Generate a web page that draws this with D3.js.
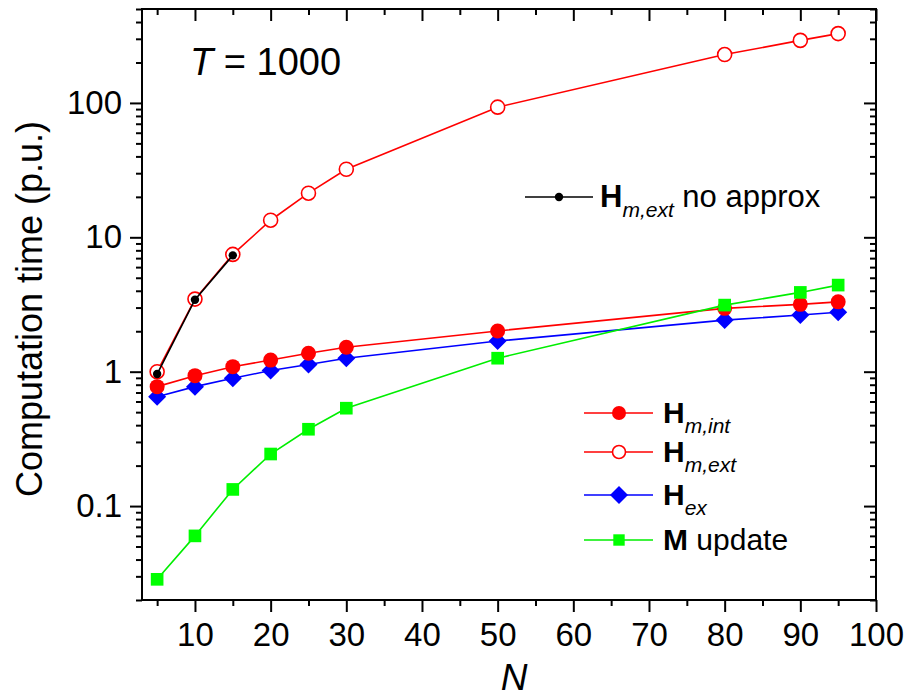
<!DOCTYPE html>
<html>
<head>
<meta charset="utf-8">
<script src="https://cdn.jsdelivr.net/npm/d3@7"></script>
<style>
html,body{margin:0;padding:0;background:#fff;}
text{font-family:"Liberation Sans",Arial,sans-serif;}
</style>
</head>
<body>
<svg id="chart" width="910" height="697"></svg>
<script>
// ---- data ----
const N = [5, 10, 15, 20, 25, 30, 50, 80, 90, 95];
const HmInt = [0.774, 0.934, 1.09, 1.22, 1.37, 1.52, 2.01, 2.96, 3.17, 3.31];
const HmExt = [1.0, 3.47, 7.46, 13.4, 21.3, 32.1, 93, 229, 292, 328];
const Hex = [0.652, 0.774, 0.893, 1.02, 1.13, 1.26, 1.69, 2.42, 2.64, 2.77];
const Mupd = [0.0285, 0.060, 0.133, 0.244, 0.373, 0.535, 1.26, 3.13, 3.89, 4.41];
const NnoApprox = [5, 10, 15];
const HmExtNoApprox = [0.96, 3.43, 7.34];
const xMajor = [10, 20, 30, 40, 50, 60, 70, 80, 90, 100];
const xMinor = [5, 15, 25, 35, 45, 55, 65, 75, 85, 95];
const yMajor = [0.1, 1, 10, 100];
const yMajorLabels = ["0.1", "1", "10", "100"];

const svg = d3.select("#chart");
const L = 142, R = 876, T = 9, B = 600;
const x = d3.scaleLinear().domain([3, 100]).range([L, R]);
const y = d3.scaleLog().domain([0.02, 500]).range([B, T]);

// minor y ticks
const yMinor = [];
[0.01, 0.1, 1, 10, 100].forEach(d => {
  for (let k = 2; k <= 9; k++) {
    const v = +(d * k).toPrecision(3);
    if (v >= 0.02 && v <= 500) yMinor.push(v);
  }
});

function styleAxis(g) {
  g.select(".domain").remove();
  g.selectAll(".tick line").attr("stroke", "#000").attr("stroke-width", 2);
  g.selectAll(".tick text").attr("fill", "#000").style("font-size", "33px")
    .style("font-family", "'Liberation Sans', Arial, sans-serif");
}

// bottom
svg.append("g").attr("transform", `translate(0,${B})`)
  .call(d3.axisBottom(x).tickValues(xMajor).tickFormat(d3.format("d")).tickSize(12).tickPadding(11))
  .call(styleAxis);
svg.append("g").attr("transform", `translate(0,${B})`)
  .call(d3.axisBottom(x).tickValues(xMinor).tickFormat("").tickSize(6))
  .call(styleAxis);
// top (inward)
svg.append("g").attr("transform", `translate(0,${T})`)
  .call(d3.axisBottom(x).tickValues(xMajor).tickFormat("").tickSize(12))
  .call(styleAxis);
svg.append("g").attr("transform", `translate(0,${T})`)
  .call(d3.axisBottom(x).tickValues(xMinor).tickFormat("").tickSize(6))
  .call(styleAxis);
// left
svg.append("g").attr("transform", `translate(${L},0)`)
  .call(d3.axisLeft(y).tickValues(yMajor).tickFormat((d, i) => yMajorLabels[i]).tickSize(12).tickPadding(8))
  .call(styleAxis);
svg.append("g").attr("transform", `translate(${L},0)`)
  .call(d3.axisLeft(y).tickValues(yMinor).tickFormat("").tickSize(6))
  .call(styleAxis);
// right (inward)
svg.append("g").attr("transform", `translate(${R},0)`)
  .call(d3.axisLeft(y).tickValues(yMajor).tickFormat("").tickSize(12))
  .call(styleAxis);
svg.append("g").attr("transform", `translate(${R},0)`)
  .call(d3.axisLeft(y).tickValues(yMinor).tickFormat("").tickSize(6))
  .call(styleAxis);

// frame
svg.append("rect").attr("x", L).attr("y", T).attr("width", R - L).attr("height", B - T)
  .attr("fill", "none").attr("stroke", "#000").attr("stroke-width", 2);

// axis titles
svg.append("text").attr("transform", "translate(42,309) rotate(-90)")
  .attr("text-anchor", "middle").style("font-size", "36px").text("Computation time (p.u.)");
svg.append("text").attr("x", 514).attr("y", 690).attr("text-anchor", "middle")
  .style("font-size", "37px").style("font-style", "italic").text("N");

// annotation
const ann = svg.append("text").attr("x", 190).attr("y", 75).style("font-size", "38px");
ann.append("tspan").style("font-style", "italic").text("T");
ann.append("tspan").text(" = 1000");

const line = d3.line().x(d => x(d[0])).y(d => y(d[1]));
const pairs = (xs, ys) => xs.map((v, i) => [v, ys[i]]);

const diamond = d3.symbol().type(d3.symbolSquare).size(162);
const square = d3.symbol().type(d3.symbolSquare).size(160);

function series(data, color, marker) {
  const g = svg.append("g");
  g.append("path").attr("d", line(data)).attr("fill", "none")
    .attr("stroke", color).attr("stroke-width", 1.6);
  marker(g.selectAll(".p").data(data).enter());
}

// H_ex (blue diamonds)
series(pairs(N, Hex), "#0000ff", pts => {
  pts.append("path").attr("d", diamond).attr("transform", d => `translate(${x(d[0])},${y(d[1])}) rotate(45)`)
    .attr("fill", "#0000ff");
});
// H_m,int (red filled circles)
series(pairs(N, HmInt), "#ff0000", pts => {
  pts.append("circle").attr("cx", d => x(d[0])).attr("cy", d => y(d[1])).attr("r", 7.5)
    .attr("fill", "#ff0000");
});
// M update (green squares)
series(pairs(N, Mupd), "#00ee00", pts => {
  pts.append("path").attr("d", square).attr("transform", d => `translate(${x(d[0])},${y(d[1])})`)
    .attr("fill", "#00ff00");
});
// H_m,ext (red hollow circles)
series(pairs(N, HmExt), "#ff0000", pts => {
  pts.append("circle").attr("cx", d => x(d[0])).attr("cy", d => y(d[1])).attr("r", 7)
    .attr("fill", "#fff").attr("stroke", "#ff0000").attr("stroke-width", 1.6);
});
// H_m,ext no approx (black dots)
series(pairs(NnoApprox, HmExtNoApprox), "#000", pts => {
  pts.append("circle").attr("cx", d => x(d[0])).attr("cy", d => y(d[1])).attr("r", 4.2)
    .attr("fill", "#000");
});

// ---- legends ----
function legendLabel(xp, yp, main, sub, rest, size) {
  const t = svg.append("text").attr("x", xp).attr("y", yp).style("font-size", size + "px");
  t.append("tspan").style("font-weight", "bold").text(main);
  if (sub) t.append("tspan").attr("dy", 10).style("font-style", "italic").style("font-size", "21px").text(sub);
  if (rest) t.append("tspan").attr("dy", sub ? -10 : 0).text(rest);
}

// legend 1
svg.append("line").attr("x1", 525).attr("x2", 593).attr("y1", 197).attr("y2", 197)
  .attr("stroke", "#000").attr("stroke-width", 1.6);
svg.append("circle").attr("cx", 559).attr("cy", 197).attr("r", 4.2).attr("fill", "#000");
legendLabel(600, 207, "H", "m,ext", " no approx", 31);

// legend 2
const lx1 = 584, lx2 = 653, lm = 619;
const rows = [
  {y: 413, color: "#ff0000", mk: "fc", main: "H", sub: "m,int", rest: null},
  {y: 452, color: "#ff0000", mk: "hc", main: "H", sub: "m,ext", rest: null},
  {y: 495, color: "#0000ff", mk: "dm", main: "H", sub: "ex", rest: null},
  {y: 540, color: "#00ee00", mk: "sq", main: "M", sub: null, rest: " update"}
];
rows.forEach(r => {
  svg.append("line").attr("x1", lx1).attr("x2", lx2).attr("y1", r.y).attr("y2", r.y)
    .attr("stroke", r.color).attr("stroke-width", 1.6);
  if (r.mk === "fc") svg.append("circle").attr("cx", lm).attr("cy", r.y).attr("r", 7).attr("fill", "#ff0000");
  if (r.mk === "hc") svg.append("circle").attr("cx", lm).attr("cy", r.y).attr("r", 6.5)
    .attr("fill", "#fff").attr("stroke", "#ff0000").attr("stroke-width", 1.6);
  if (r.mk === "dm") svg.append("path").attr("d", diamond).attr("transform", `translate(${lm},${r.y}) rotate(45)`).attr("fill", "#0000ff");
  if (r.mk === "sq") svg.append("path").attr("d", d3.symbol().type(d3.symbolSquare).size(130)).attr("transform", `translate(${lm},${r.y})`).attr("fill", "#00ff00");
  legendLabel(663, r.y + 10, r.main, r.sub, r.rest, 30);
});
</script>
</body>
</html>
